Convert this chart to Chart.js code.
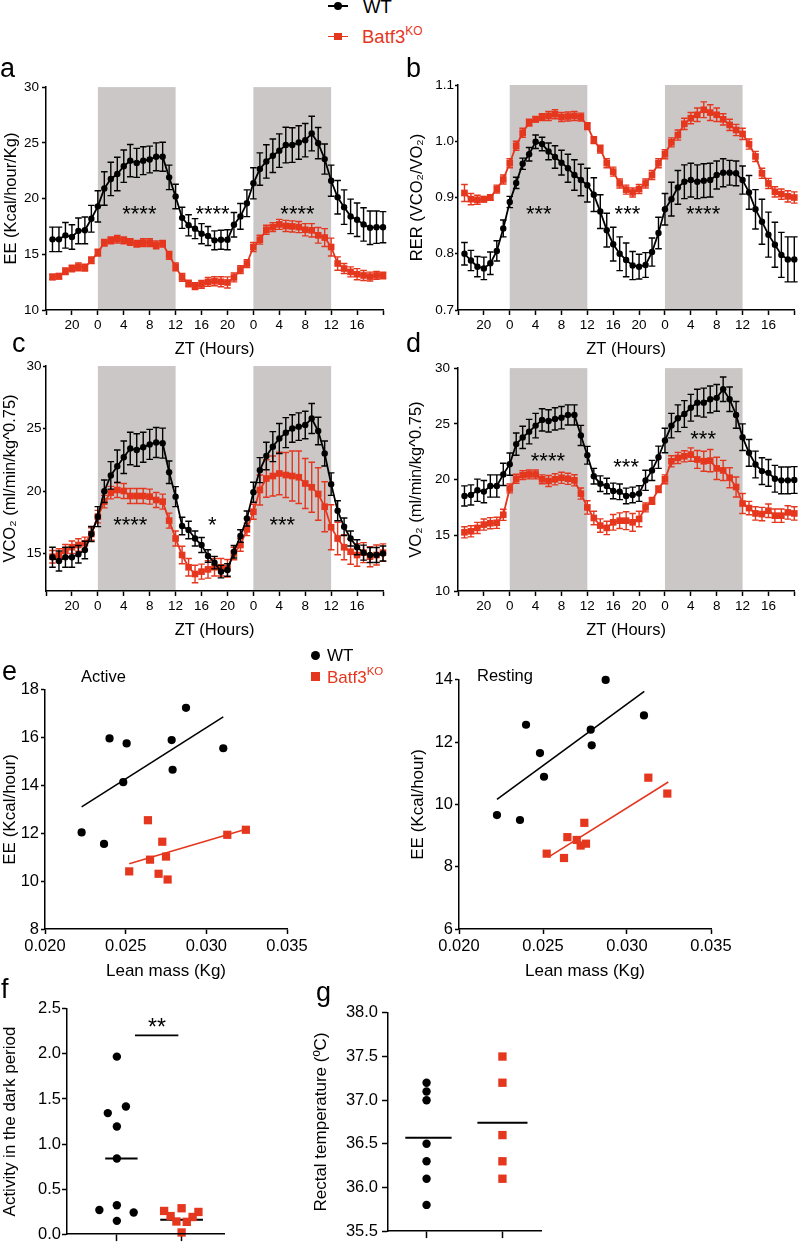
<!DOCTYPE html>
<html><head><meta charset="utf-8">
<script src="https://cdn.jsdelivr.net/npm/chart.js@4.4.1/dist/chart.umd.min.js"></script>
<style>
html,body{margin:0;padding:0;background:#fff;}
body{width:799px;height:1245px;position:relative;overflow:hidden;font-family:'Liberation Sans',Arial,Helvetica,sans-serif;}
canvas{position:absolute;}
.t{position:absolute;white-space:nowrap;line-height:1.117;color:#000;}
.b{position:absolute;}
</style></head><body>
<script>
// ---------------- DATA ----------------
const hours = [-7,-6,-5,-4,-3,-2,-1,0,1,2,3,4,5,6,7,8,9,10,11,12,13,14,15,16,17,18,19,20,21,22,23,24,25,26,27,28,29,30,31,32,33,34,35,36,37,38,39,40,41,42,43,44];
const ztTicks  = [-8,-4,0,4,8,12,16,20,24,28,32,36,40,44];
const ztLabels = ['','20','0','4','8','12','16','20','0','4','8','12','16',''];
const darkPhases = [[0,12],[24,36]];

// a: EE (Kcal/hour/Kg)
const eeWT = [16.34,16.34,16.7,16.55,17.1,17.15,18.19, 19.3,20.9,21.76,22.2,22.9,23.4,23.2,23.4,23.5,23.75,23.75,21.9, 20.18,18.27,17.6,17.3,16.85,16.64,16.25,16.3,16.3,17.65,18.4,19.58, 21.37,22.65,23.33,23.84,24.3,24.8,24.8,25.03,25.24,25.83,24.97,23.54, 21.6,20.12,19.23,18.4,18.1,17.68,17.38,17.43,17.43];
const eeWTerr = [1.1,1.1,1.15,1.1,1.15,1.2,1.2, 1.4,1.5,1.5,1.5,1.45,1.45,1.3,1.25,1.2,1.25,1.3,1.1, 1.1,0.95,0.95,0.9,0.9,0.85,0.85,0.85,0.9,1.1,1.15,1.2, 1.4,1.45,1.5,1.5,1.5,1.6,1.55,1.5,1.5,1.55,1.4,1.35, 1.4,1.5,1.55,1.55,1.5,1.5,1.5,1.45,1.4];
const eeKO = [12.97,13.03,13.48,13.72,13.87,13.8,14.46, 15.15,16.04,16.25,16.35,16.25,16.1,15.95,16.04,16.04,15.85,15.95,14.91, 13.87,12.92,12.38,12.14,12.3,12.53,12.58,12.53,12.47,12.92,13.63,14.17, 15.65,16.31,17.2,17.44,17.68,17.54,17.5,17.44,17.2,17.15,16.7,16.5, 15.65,14.17,13.72,13.42,13.21,13.1,13.0,13.1,13.1];
const eeKOerr = [0.25,0.25,0.3,0.3,0.35,0.3,0.3, 0.3,0.3,0.3,0.35,0.3,0.3,0.3,0.35,0.35,0.35,0.3,0.35, 0.35,0.35,0.3,0.3,0.35,0.4,0.4,0.45,0.5,0.4,0.35,0.35, 0.4,0.4,0.4,0.4,0.45,0.5,0.5,0.5,0.55,0.6,0.7,0.8, 0.8,0.6,0.45,0.45,0.5,0.45,0.4,0.35,0.3];
const eeSigX = [6.4,17.7,30.8];
const eeSigY = [19.1,19.1,19.1];
const eeSigText = ['****','****','****'];

// b: RER
const rerWT = [0.80,0.788,0.777,0.774,0.783,0.805,0.845, 0.892,0.926,0.960,0.977,0.999,0.995,0.982,0.972,0.962,0.952,0.94,0.931, 0.922,0.905,0.875,0.842,0.817,0.80,0.789,0.779,0.777,0.78,0.803,0.837, 0.879,0.897,0.918,0.928,0.931,0.928,0.93,0.931,0.94,0.944,0.944,0.943, 0.931,0.909,0.879,0.857,0.834,0.816,0.798,0.79,0.79];
const rerWTerr = [0.02,0.018,0.018,0.02,0.02,0.018,0.015, 0.01,0.01,0.01,0.012,0.012,0.012,0.015,0.02,0.022,0.025,0.027,0.028, 0.03,0.03,0.03,0.03,0.03,0.03,0.03,0.025,0.022,0.022,0.025,0.028, 0.028,0.03,0.03,0.03,0.03,0.03,0.03,0.03,0.025,0.025,0.022,0.022, 0.025,0.03,0.035,0.04,0.04,0.04,0.04,0.04,0.04];
const rerKO = [0.908,0.897,0.896,0.897,0.9,0.915,0.932, 0.961,0.992,1.015,1.033,1.039,1.043,1.045,1.048,1.043,1.044,1.045,1.043, 1.027,1.002,0.986,0.961,0.946,0.925,0.914,0.909,0.915,0.925,0.94,0.961, 0.977,0.998,1.011,1.031,1.041,1.047,1.056,1.051,1.047,1.039,1.029,1.02, 1.013,0.995,0.973,0.943,0.925,0.91,0.906,0.902,0.9];
const rerKOerr = [0.015,0.01,0.008,0.005,0.005,0.007,0.008, 0.008,0.008,0.008,0.006,0.005,0.006,0.008,0.008,0.008,0.008,0.008,0.007, 0.006,0.006,0.007,0.008,0.008,0.008,0.008,0.008,0.008,0.008,0.008,0.008, 0.008,0.008,0.009,0.01,0.01,0.012,0.014,0.014,0.012,0.01,0.01,0.01, 0.01,0.009,0.009,0.009,0.009,0.009,0.009,0.01,0.01];
const rerSigX = [4.5,18.2,29.9];
const rerSigY = [0.881,0.881,0.881];
const rerSigText = ['***','***','****'];

// c: VCO2
const vco2WT = [14.7,14.4,14.7,14.7,14.94,15.28,16.56, 17.95,19.98,21.25,21.98,22.7,23.4,23.28,23.5,23.73,23.88,23.83,21.5, 19.55,17.2,16.88,16.2,15.68,14.8,14.27,13.55,13.68,15.14,16.4,17.8, 19.9,21.67,22.8,23.55,24.2,24.67,25.0,25.15,25.28,25.8,24.8,23.0, 20.55,18.42,17.14,16.2,15.5,15.07,14.88,14.88,15.0];
const vco2WTerr = [0.8,0.8,0.8,0.8,0.7,0.7,0.6, 0.8,0.9,1.1,1.3,1.3,1.3,1.3,1.2,1.2,1.2,1.2,0.9, 0.8,0.7,0.7,0.6,0.6,0.5,0.5,0.5,0.5,0.5,0.5,0.6, 0.8,1.0,1.1,1.2,1.2,1.2,1.1,1.1,1.1,1.2,1.1,1.0, 0.9,0.8,0.7,0.6,0.6,0.6,0.6,0.6,0.6];
const vco2KO = [14.74,14.88,15.22,15.5,15.68,15.81,16.56, 17.95,19.15,19.87,20.08,20.0,19.6,19.6,19.6,19.55,19.28,19.15,17.63, 16.2,14.88,13.9,13.36,13.55,13.73,13.9,13.9,13.82,15.0,15.68,16.93, 18.34,20.08,21.0,21.2,21.4,21.28,21.2,21.1,20.6,20.3,19.76,18.74, 17.1,16.2,15.5,15.14,14.88,15.07,14.74,14.88,15.07];
const vco2KOerr = [0.5,0.5,0.5,0.5,0.5,0.5,0.5, 0.5,0.5,0.5,0.6,0.6,0.6,0.6,0.6,0.6,0.6,0.6,0.6, 0.6,0.7,0.7,0.7,0.6,0.7,0.7,0.7,0.7,0.5,0.5,0.5, 0.6,1.2,1.5,1.6,1.7,1.8,2.0,2.1,2.0,2.0,2.1,2.0, 1.8,1.3,1.0,1.0,0.9,0.8,0.8,0.8,0.7];
const vco2SigX = [5.0,17.65,28.45];
const vco2SigY = [17.7,17.7,17.7];
const vco2SigText = ['****','*','***'];

// d: VO2
const vo2WT = [18.53,18.62,19.04,18.92,19.42,19.42,20.46, 21.38,23.18,23.78,24.3,24.84,25.35,25.26,25.44,25.55,25.8,25.8,23.96, 22.18,20.3,19.63,19.42,18.98,18.9,18.53,18.62,18.74,19.93,20.82,22.0, 23.5,24.84,25.5,25.88,26.44,26.9,26.9,27.2,27.33,28.1,27.2,25.8, 23.8,22.4,21.35,20.76,20.6,20.07,19.93,19.93,19.96];
const vo2WTerr = [0.9,0.9,1.0,1.0,1.0,1.0,1.0, 1.0,1.0,1.0,1.1,1.1,1.0,1.0,1.0,1.0,0.9,0.9,0.9, 0.8,0.7,0.7,0.7,0.7,0.7,0.7,0.7,0.7,0.9,0.9,1.0, 1.1,1.1,1.2,1.2,1.2,1.2,1.3,1.2,1.2,1.1,1.1,1.2, 1.2,1.2,1.2,1.2,1.2,1.2,1.2,1.2,1.2];
const vo2KO = [15.27,15.36,15.66,15.96,16.08,16.12,16.84, 19.2,20.07,20.4,20.46,20.46,20.02,19.87,20.02,20.16,20.07,19.93,18.74, 17.5,16.55,15.87,15.66,16.16,16.31,16.31,16.16,16.46,17.5,18.09,19.13, 20.02,21.64,21.94,22.09,22.24,21.8,21.64,21.7,21.0,20.82,20.16,19.33, 17.85,17.44,16.96,16.9,17.2,16.76,16.76,17.05,16.96];
const vo2KOerr = [0.5,0.5,0.5,0.5,0.5,0.5,0.5, 0.4,0.4,0.4,0.4,0.4,0.4,0.5,0.5,0.5,0.5,0.5,0.5, 0.6,0.6,0.6,0.6,0.7,0.7,0.8,0.8,0.7,0.4,0.3,0.3, 0.4,0.5,0.5,0.5,0.6,0.8,0.9,1.0,1.0,0.9,0.9,0.9, 0.9,0.6,0.6,0.6,0.6,0.6,0.6,0.6,0.6];
const vo2SigX = [5.9,18.0,29.9];
const vo2SigY = [22.2,21.6,24.1];
const vo2SigText = ['****','***','***'];

// e: EE vs lean mass
const leanTicks = [0.020,0.025,0.030,0.035];
const leanLabels = ['0.020','0.025','0.030','0.035'];
const actWTx = [0.0240,0.02506,0.02485,0.02874,0.02785,0.02791,0.03105,0.02227,0.02366];
const actWTy = [15.97,15.76,14.14,17.25,15.9,14.66,15.56,12.04,11.56];
const actKOx = [0.02522,0.02638,0.02651,0.02727,0.0275,0.02704,0.0276,0.0313,0.03245];
const actKOy = [10.41,12.55,10.9,11.65,11.03,10.31,10.07,11.94,12.15];
const actWTfitX = [0.02227,0.03105], actWTfitY = [13.11,16.87];
const actKOfitX = [0.02522,0.03245], actKOfitY = [10.73,12.17];
const actTicks = [8,10,12,14,16,18];
const restWTx = [0.02873,0.02399,0.02482,0.02506,0.02784,0.0279,0.03101,0.02226,0.02363];
const restWTy = [14.0,12.56,11.65,10.89,12.4,11.9,12.86,9.66,9.5];
const restKOx = [0.02522,0.02625,0.02645,0.02701,0.02724,0.02756,0.02746,0.03127,0.0324];
const restKOy = [8.42,8.28,8.95,8.86,8.68,8.74,9.41,10.86,10.35];
const restWTfitX = [0.02226,0.03103], restWTfitY = [10.16,13.63];
const restKOfitX = [0.02532,0.03246], restKOfitY = [8.31,10.72];
const restTicks = [6,8,10,12,14];

// f: activity in dark period
const actDarkWTx = [0,-0.14,0.14,0,0,-0.27,0,0.26,0];
const actDarkWTy = [1.97,1.343,1.416,1.195,0.839,0.268,0.32,0.24,0.147];
const actDarkKOx = [0.73,1,1.26,0.83,1.17,0.92,1.08,1];
const actDarkKOy = [0.257,0.287,0.246,0.2,0.19,0.14,0.136,0.018];
const actDarkWTmedX = [-0.18,0.32], actDarkWTmed = 0.84;
const actDarkKOmedX = [0.67,1.33], actDarkKOmed = 0.158;
const actDarkSigX = [0.28,0.95], actDarkSigLineY = 2.207, actDarkSigTextX = 0.62, actDarkSigTextY = 2.354;
const actDarkTicks = [0,0.5,1,1.5,2,2.5];
const actDarkLabels = ['0.0','0.5','1.0','1.5','2.0','2.5'];

// g: rectal temperature
const tempWTy = [37.2,37.1,37.0,36.5,36.3,36.1,35.8];
const tempKOy = [37.5,37.2,36.6,36.3,36.1];
const tempWTmeanX = [-0.28,0.33], tempWTmean = 36.57;
const tempKOmeanX = [0.67,1.33], tempKOmean = 36.74;
const tempTicks = [35.5,36,36.5,37,37.5,38];
const tempLabels = ['35.5','36.0','36.5','37.0','37.5','38.0'];
const groupTicks = [0,1];

// ---------------- STYLE / HELPERS ----------------
const FONT = "'Liberation Sans', Arial, Helvetica, sans-serif";
const RED = '#e5361e';
const SHADE = '#cbc7c7';
Chart.defaults.font.family = FONT;
Chart.defaults.color = '#000';

const shadePlugin = {
  id:'shade',
  beforeDatasetsDraw(chart, args, opts) {
    if (!opts || !opts.ranges) return;
    const {ctx, chartArea:ca, scales:{x}} = chart;
    ctx.save(); ctx.fillStyle = opts.color;
    opts.ranges.forEach(r => {
      const x0 = x.getPixelForValue(r[0]), x1 = x.getPixelForValue(r[1]);
      ctx.fillRect(x0, ca.top, x1 - x0, ca.bottom - ca.top);
    });
    ctx.restore();
  }
};
const errPlugin = {
  id:'errbars',
  beforeDatasetDraw(chart, args) {
    const ds = chart.data.datasets[args.index];
    if (!ds.errors) return;
    const ctx = chart.ctx, ys = chart.scales.y;
    ctx.save(); ctx.strokeStyle = ds.borderColor; ctx.lineWidth = 1.4;
    args.meta.data.forEach((pt, i) => {
      const v = ds.data[i].y, e = ds.errors[i];
      const y1 = ys.getPixelForValue(v + e), y2 = ys.getPixelForValue(v - e), x = pt.x, w = 3.3;
      ctx.beginPath();
      ctx.moveTo(x, y1); ctx.lineTo(x, y2);
      ctx.moveTo(x - w, y1); ctx.lineTo(x + w, y1);
      ctx.moveTo(x - w, y2); ctx.lineTo(x + w, y2);
      ctx.stroke();
    });
    ctx.restore();
  }
};
const textPlugin = {
  id:'texts',
  afterDatasetsDraw(chart, args, opts) {
    if (!opts || !opts.items) return;
    const {ctx, scales:{x, y}} = chart;
    opts.items.forEach(it => {
      ctx.save();
      ctx.font = it.size + 'px ' + FONT; ctx.fillStyle = '#000';
      ctx.textAlign = 'center'; ctx.textBaseline = 'alphabetic';
      ctx.fillText(it.text, x.getPixelForValue(it.x), y.getPixelForValue(it.y) + 0.57 * it.size);
      ctx.restore();
    });
  }
};
Chart.register(shadePlugin, errPlugin, textPlugin);

function mkCanvas(rect, yW, padTop, padRight, xH) {
  const c = document.createElement('canvas');
  const w = Math.round(rect.r - rect.l + yW + padRight);
  const h = Math.round(rect.b - rect.t + padTop + xH);
  c.width = w; c.height = h;
  c.style.left = (rect.l - yW) + 'px'; c.style.top = (rect.t - padTop) + 'px';
  c.style.width = w + 'px'; c.style.height = h + 'px';
  document.body.appendChild(c);
  return c;
}
function axisCommon(tl) {
  return {
    grid:{display:true, drawOnChartArea:false, drawTicks:true, tickLength:tl, tickWidth:1.5, tickColor:'#000'},
    border:{display:true, color:'#000', width:1.5, z:1}
  };
}
function yAxis(o) {
  return Object.assign(axisCommon(o.tl), {
    type:'linear', position:'left', min:o.min, max:o.max,
    afterFit: s => { s.width = o.w; },
    afterBuildTicks: s => { s.ticks = o.ticks.map(v => ({value:v})); },
    ticks:{font:{size:o.fs || 13.5}, color:'#000', padding:o.pad, autoSkip:false, callback:(v, i) => o.labels ? o.labels[i] : String(v)},
    title:{display:!!o.title, text:o.title, font:{size:o.tfs || 16.5}, color:'#000', padding:{top:o.tpad, bottom:0}}
  });
}
function xAxis(o) {
  return Object.assign(axisCommon(o.tl), {
    type:'linear', position:'bottom', min:o.min, max:o.max,
    afterFit: s => { s.height = o.h; },
    afterBuildTicks: s => { s.ticks = o.ticks.map(v => ({value:v})); },
    ticks:{font:{size:o.fs || 13.5}, color:'#000', padding:o.pad, maxRotation:0, autoSkip:false, callback:(v, i) => o.labels ? o.labels[i] : ''},
    title:{display:!!o.title, text:o.title, font:{size:o.tfs || 16.5}, color:'#000', padding:{top:0, bottom:o.tpad}}
  });
}
function baseOptions(padR, plugins, scales) {
  return {
    responsive:false, animation:false, devicePixelRatio:1, events:[],
    layout:{padding:{top:10, right:padR, left:0, bottom:0}},
    plugins:Object.assign({legend:{display:false}, tooltip:{enabled:false}}, plugins),
    scales
  };
}
function pts(xs, ys) { return xs.map((x, i) => ({x:x, y:ys[i]})); }
function sigItems(xs, ys, txt, size) { return xs.map((x, i) => ({x:x, y:ys[i], text:txt[i], size:size})); }

function timePanel(p) {
  const cv = mkCanvas(p.rect, p.yW, 10, p.padR, 52);
  new Chart(cv, {
    type:'line',
    data:{datasets:[
      {data:pts(hours, p.wt), errors:p.wtErr, borderColor:'#000', backgroundColor:'#000', pointStyle:'circle', pointRadius:3.2, pointBorderWidth:0, borderWidth:1.8, clip:false, tension:0},
      {data:pts(hours, p.ko), errors:p.koErr, borderColor:RED, backgroundColor:RED, pointStyle:'rect', pointRadius:4.7, pointBorderWidth:0, borderWidth:1.8, clip:false, tension:0}
    ]},
    options:baseOptions(p.padR,
      {shade:{ranges:darkPhases, color:SHADE}, texts:{items:p.sig}},
      {x:xAxis({min:-8, max:44, ticks:ztTicks, labels:ztLabels, h:52, tl:5, pad:2.5, title:'ZT (Hours)', tpad:3, fs:13.5, tfs:16.5}),
       y:yAxis({min:p.yMin, max:p.yMax, ticks:p.yTicks, labels:p.yLabels, w:p.yW, tl:p.ytl, pad:p.ypad, title:p.yTitle, tpad:p.ytpad, fs:13.5, tfs:16.5})})
  });
}

// ---------------- PANELS a-d ----------------
timePanel({rect:{l:46,t:86,r:383,b:310}, yW:46, padR:12, wt:eeWT, wtErr:eeWTerr, ko:eeKO, koErr:eeKOerr,
  yMin:10, yMax:30, yTicks:[10,15,20,25,30], yTitle:'EE (Kcal/hour/Kg)', ytl:4, ypad:3, ytpad:1.8,
  sig:sigItems(eeSigX, eeSigY, eeSigText, 22)});
timePanel({rect:{l:458,t:85,r:796,b:310}, yW:58, padR:3, wt:rerWT, wtErr:rerWTerr, ko:rerKO, koErr:rerKOerr,
  yMin:0.7, yMax:1.1, yTicks:[0.7,0.8,0.9,1.0,1.1], yLabels:['0.7','0.8','0.9','1.0','1.1'], yTitle:'RER (VCO\u2082/VO\u2082)', ytl:3, ypad:1, ytpad:8,
  sig:sigItems(rerSigX, rerSigY, rerSigText, 22)});
timePanel({rect:{l:46,t:366,r:383,b:591}, yW:46, padR:12, wt:vco2WT, wtErr:vco2WTerr, ko:vco2KO, koErr:vco2KOerr,
  yMin:12, yMax:30, yTicks:[15,20,25,30], yTitle:'VCO\u2082 (ml/min/kg^0.75)', ytl:3, ypad:1.5, ytpad:1,
  sig:sigItems(vco2SigX, vco2SigY, vco2SigText, 22)});
timePanel({rect:{l:458,t:366,r:796,b:591}, yW:58, padR:3, wt:vo2WT, wtErr:vo2WTerr, ko:vo2KO, koErr:vo2KOerr,
  yMin:10, yMax:30, yTicks:[10,15,20,25,30], yTitle:'VO\u2082 (ml/min/kg^0.75)', ytl:4, ypad:4, ytpad:7,
  sig:sigItems(vo2SigX, vo2SigY, vo2SigText, 22)});

// ---------------- PANEL e ----------------
function leanPanel(p) {
  const cv = mkCanvas(p.rect, p.yW, 10, 25, 56);
  new Chart(cv, {
    type:'scatter',
    data:{datasets:[
      {data:pts(p.wtx, p.wty), pointStyle:'circle', pointRadius:4.1, pointBorderWidth:0, backgroundColor:'#000', showLine:false, clip:false},
      {data:pts(p.kox, p.koy), pointStyle:'rect', pointRadius:5.8, pointBorderWidth:0, backgroundColor:RED, showLine:false, clip:false},
      {data:pts(p.wtFitX, p.wtFitY), showLine:true, pointRadius:0, borderColor:'#000', borderWidth:1.6, clip:false},
      {data:pts(p.koFitX, p.koFitY), showLine:true, pointRadius:0, borderColor:RED, borderWidth:1.6, clip:false}
    ]},
    options:baseOptions(25, {},
      {x:xAxis({min:0.020, max:0.035, ticks:leanTicks, labels:leanLabels, h:56, tl:5, pad:3, title:'Lean mass (Kg)', tpad:3, fs:16.5, tfs:17}),
       y:yAxis({min:p.yMin, max:p.yMax, ticks:p.yTicks, w:p.yW, tl:4, pad:2, title:'EE (Kcal/hour)', tpad:p.ytpad, fs:16.5, tfs:17})})
  });
}
leanPanel({rect:{l:45,t:688,r:287,b:929}, yW:45, wtx:actWTx, wty:actWTy, kox:actKOx, koy:actKOy,
  wtFitX:actWTfitX, wtFitY:actWTfitY, koFitX:actKOfitX, koFitY:actKOfitY, yMin:8, yMax:18, yTicks:actTicks, ytpad:0});
leanPanel({rect:{l:459,t:678,r:711,b:929}, yW:52, wtx:restWTx, wty:restWTy, kox:restKOx, koy:restKOy,
  wtFitX:restWTfitX, wtFitY:restWTfitY, koFitX:restKOfitX, koFitY:restKOfitY, yMin:6, yMax:14, yTicks:restTicks, ytpad:1});

// ---------------- PANEL f ----------------
(function(){
  const rect = {l:67,t:1008,r:224,b:1235};
  const cv = mkCanvas(rect, 67, 10, 10, 10);
  new Chart(cv, {
    type:'scatter',
    data:{datasets:[
      {data:pts(actDarkWTx, actDarkWTy), pointStyle:'circle', pointRadius:4.2, pointBorderWidth:0, backgroundColor:'#000', clip:false},
      {data:pts(actDarkKOx, actDarkKOy), pointStyle:'rect', pointRadius:5.9, pointBorderWidth:0, backgroundColor:RED, clip:false},
      {data:pts(actDarkWTmedX, [actDarkWTmed, actDarkWTmed]), showLine:true, pointRadius:0, borderColor:'#000', borderWidth:2, clip:false},
      {data:pts(actDarkKOmedX, [actDarkKOmed, actDarkKOmed]), showLine:true, pointRadius:0, borderColor:'#000', borderWidth:2, clip:false},
      {data:pts(actDarkSigX, [actDarkSigLineY, actDarkSigLineY]), showLine:true, pointRadius:0, borderColor:'#000', borderWidth:1.8, clip:false}
    ]},
    options:baseOptions(10, {texts:{items:[{x:actDarkSigTextX, y:actDarkSigTextY, text:'**', size:23}]}},
      {x:xAxis({min:-0.77, max:1.655, ticks:groupTicks, h:10, tl:7, pad:0}),
       y:yAxis({min:0, max:2.5, ticks:actDarkTicks, labels:actDarkLabels, w:67, tl:5, pad:1, title:'Activity in the dark period', tpad:0, fs:16.5, tfs:17})})
  });
})();

// ---------------- PANEL g ----------------
(function(){
  const rect = {l:388,t:1009,r:541,b:1236};
  const cv = mkCanvas(rect, 77, 10, 10, 9);
  new Chart(cv, {
    type:'scatter',
    data:{datasets:[
      {data:tempWTy.map(v => ({x:groupTicks[0], y:v})), pointStyle:'circle', pointRadius:4.2, pointBorderWidth:0, backgroundColor:'#000', clip:false},
      {data:tempKOy.map(v => ({x:groupTicks[1], y:v})), pointStyle:'rect', pointRadius:5.9, pointBorderWidth:0, backgroundColor:RED, clip:false},
      {data:pts(tempWTmeanX, [tempWTmean, tempWTmean]), showLine:true, pointRadius:0, borderColor:'#000', borderWidth:2, clip:false},
      {data:pts(tempKOmeanX, [tempKOmean, tempKOmean]), showLine:true, pointRadius:0, borderColor:'#000', borderWidth:2, clip:false}
    ]},
    options:baseOptions(10, {},
      {x:xAxis({min:-0.508, max:1.508, ticks:groupTicks, h:9, tl:7, pad:0}),
       y:yAxis({min:35.5, max:38, ticks:tempTicks, labels:tempLabels, w:77, tl:6, pad:4, title:'Rectal temperature (\u00baC)', tpad:0, fs:16.5, tfs:17})})
  });
})();

// ---------------- TEXT / LEGENDS ----------------
function addText(html, left, baseline, size, color) {
  const d = document.createElement('div');
  d.className = 't'; d.innerHTML = html;
  d.style.left = left + 'px'; d.style.top = (baseline - 0.905 * size) + 'px';
  d.style.fontSize = size + 'px'; d.style.color = color || '#000';
  document.body.appendChild(d);
}
function addBox(cx, cy, w, h, color, round) {
  const d = document.createElement('div');
  d.className = 'b';
  d.style.left = (cx - w / 2) + 'px'; d.style.top = (cy - h / 2) + 'px';
  d.style.width = w + 'px'; d.style.height = h + 'px';
  d.style.background = color; if (round) d.style.borderRadius = '50%';
  document.body.appendChild(d);
}
const sup = s => '<span style="font-size:' + s + 'px;position:relative;top:-' + (s * 0.65) + 'px;">KO</span>';
// top legend
addBox(338, 6, 20, 1.8, '#000'); addBox(338, 6, 8.5, 8.5, '#000', true);
addText('WT', 363, 13.5, 18.5);
addBox(338, 36.5, 20, 1.8, RED); addBox(338, 36.5, 7.5, 7.5, RED);
addText('Batf3' + sup(12), 362, 43.3, 18.5, RED);
// panel letters
addText('a', 0, 77, 27); addText('b', 406, 77, 27);
addText('c', 12, 352, 27); addText('d', 406, 352, 27);
addText('e', 2, 680, 27); addText('f', 1, 998, 27); addText('g', 316, 1001, 27);
// e legend & labels
addBox(315.3, 655.5, 9.2, 9.2, '#000', true); addText('WT', 327, 661, 17);
addBox(315.3, 676.7, 8.8, 8.8, RED); addText('Batf3' + sup(11.5), 327, 683, 17, RED);
addText('Active', 81, 681.5, 16.5);
addText('Resting', 477, 680.5, 16.5);
</script>
</body></html>
